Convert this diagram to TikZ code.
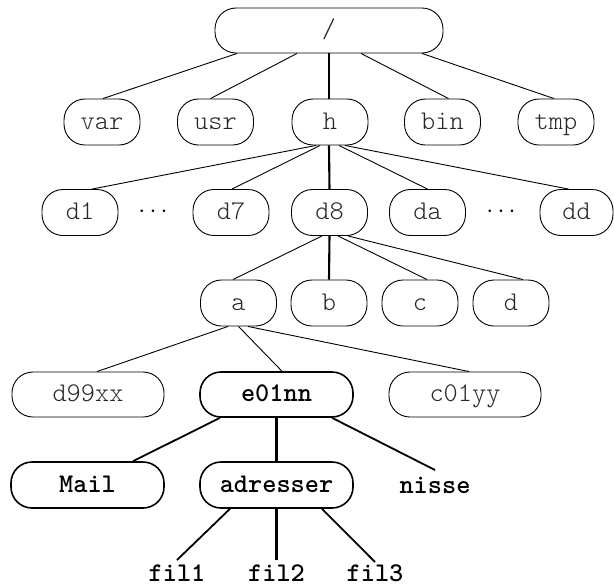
\documentclass[tikz,border=0pt]{standalone}
\usepackage{fontspec}
\setmonofont{Latin Modern Mono Light}
\begin{document}
\begin{tikzpicture}[x=1pt,y=-1pt,
  box/.style={draw, line width=0.9pt, rounded corners=21pt, minimum width=76pt,
    minimum height=46pt, inner sep=0pt, font=\fontsize{27}{27}\selectfont\ttfamily,
    text=black!85, text height=16pt, text depth=2pt},
  bbox/.style={box, line width=1.6pt, font=\fontsize{27}{27}\selectfont\ttfamily\bfseries, text=black},
  lbl/.style={inner sep=0pt, anchor=base, font=\fontsize{27}{27}\selectfont\ttfamily\bfseries},
  dotsn/.style={inner sep=0pt, font=\fontsize{30}{30}\selectfont},
  conn/.style={line width=0.9pt},
  vconn/.style={line width=2.1pt},
  bconn/.style={line width=1.8pt},
  bvconn/.style={line width=2.3pt}]
\useasboundingbox (0,0) rectangle (614,587);
% row 1
\node[box, minimum width=228pt, minimum height=45pt] (root) at (329,30.5) {/};
% row 2
\node[box] (var) at (102,122) {var};
\node[box] (usr) at (215.5,122) {usr};
\node[box] (h)   at (330,122) {h};
\node[box] (bin) at (442.5,122) {bin};
\node[box] (tmp) at (556,122) {tmp};
% row 3
\node[box] (d1) at (80,212.5) {d1};
\node[dotsn] (dots1) at (153,212) {$\cdots$};
\node[box] (d7) at (231,212.5) {d7};
\node[box] (d8) at (329.5,212.5) {d8};
\node[box] (da) at (427.5,212.5) {da};
\node[dotsn] (dots2) at (501,212) {$\cdots$};
\node[box, minimum width=73pt] (dd) at (576.5,212.5) {dd};
% row 4
\node[box] (a) at (238.5,303) {a};
\node[box] (b) at (329,303) {b};
\node[box] (c) at (420,303) {c};
\node[box] (d) at (511,303) {d};
% row 5
\node[box, minimum width=152pt, minimum height=45pt] (d99) at (88,394.5) {d99xx};
\node[bbox, minimum width=153pt, minimum height=45pt] (e01) at (276.5,394.5) {e01nn};
\node[box, minimum width=152pt, minimum height=45pt] (c01) at (465,394.5) {c01yy};
% row 6
\node[bbox, minimum width=153pt] (mail) at (87.5,485) {Mail};
\node[bbox, minimum width=153pt] (adr) at (276.5,485) {adresser};
\node[lbl] (nisse) at (435,493) {nisse};
% row 7
\node[lbl] (fil1) at (177,581) {fil1};
\node[lbl] (fil2) at (276.5,581) {fil2};
\node[lbl] (fil3) at (375,581) {fil3};
% connectors root
\draw[conn] ([xshift=-92pt]root.south) -- ([xshift=1pt]var.north);
\draw[conn] ([xshift=-32pt]root.south) -- ([xshift=-5pt]usr.north);
\draw[vconn] (root.south) -- ([xshift=-1pt]h.north);
\draw[conn] ([xshift=32pt]root.south) -- ([xshift=6pt]bin.north);
\draw[conn] ([xshift=93pt]root.south) -- ([xshift=-2pt]tmp.north);
% connectors h
\draw[conn] ([xshift=-14pt]h.south) -- ([xshift=12pt]d1.north);
\draw[conn] ([xshift=-10pt]h.south) -- ([xshift=1pt]d7.north);
\draw[vconn] ([xshift=-1pt]h.south) -- (d8.north);
\draw[conn] ([xshift=9pt]h.south) -- (da.north);
\draw[conn] ([xshift=15pt]h.south) -- ([xshift=-8pt]dd.north);
% connectors d8
\draw[conn] ([xshift=-7.5pt]d8.south) -- ([xshift=-5.5pt]a.north);
\draw[vconn] (d8.south) -- (b.north);
\draw[conn] ([xshift=8.5pt]d8.south) -- ([xshift=7pt]c.north);
\draw[conn] ([xshift=18.5pt]d8.south) -- ([xshift=12pt]d.north);
% connectors a
\draw[conn] ([xshift=-10.5pt]a.south) -- ([xshift=9pt]d99.north);
\draw[conn] (a.south) -- ([xshift=5.5pt]e01.north);
\draw[conn] ([xshift=9.5pt]a.south) -- ([xshift=4pt]c01.north);
% connectors e01nn
\draw[bconn] ([xshift=-56.5pt]e01.south) -- ([xshift=45.5pt]mail.north);
\draw[bvconn] (e01.south) -- (adr.north);
\draw[bconn] ([xshift=55.5pt]e01.south) -- ([yshift=23pt]nisse.base);
% connectors adresser
\draw[bconn] ([xshift=-46.5pt]adr.south) -- ([yshift=21pt]fil1.base);
\draw[bvconn] (adr.south) -- ([yshift=21pt]fil2.base);
\draw[bconn] ([xshift=45.5pt]adr.south) -- ([yshift=19pt]fil3.base);
\end{tikzpicture}
\end{document}
